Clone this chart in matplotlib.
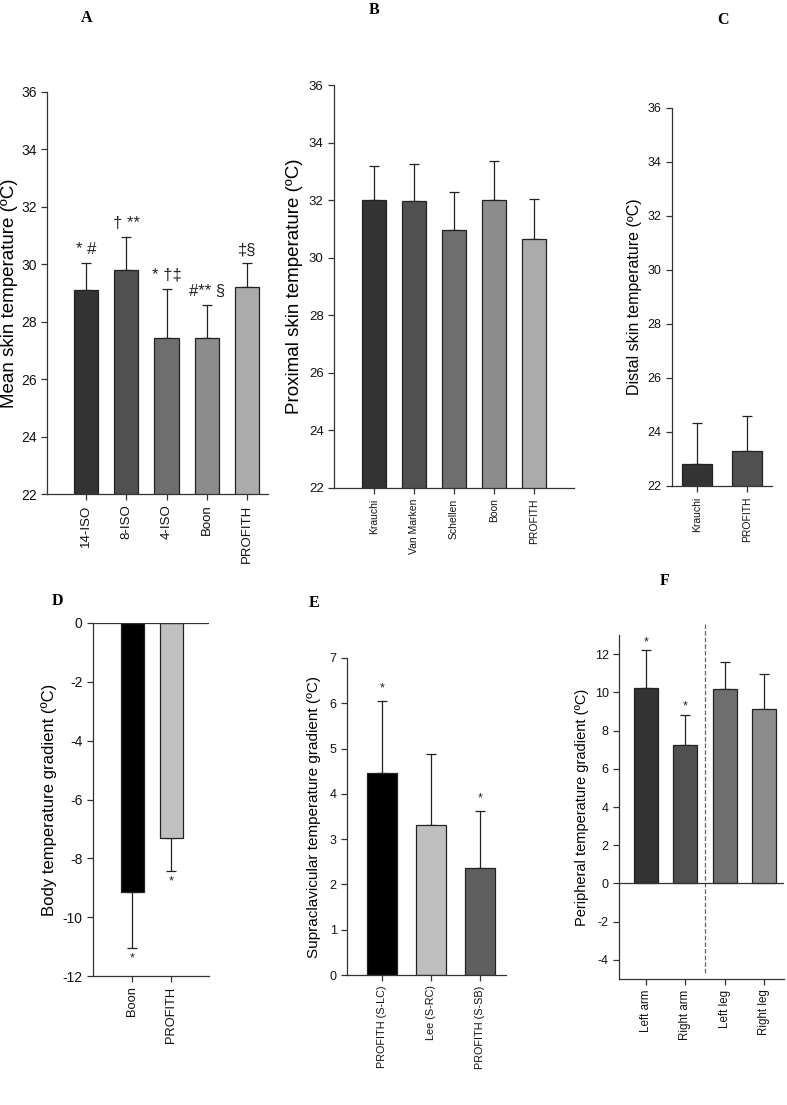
import matplotlib.pyplot as plt
import numpy as np

plt.rcParams['font.family'] = ['Liberation Sans', 'DejaVu Sans']
plt.rcParams['axes.unicode_minus'] = False

# A - mean skin temperature
a_labels = ["14-ISO", "8-ISO", "4-ISO", "Boon", "PROFITH"]
a_means = [29.12, 29.8, 27.45, 27.42, 29.2]
a_sd = [0.93, 1.15, 1.7, 1.17, 0.85]
a_marks = ["* #", "† **", "* †‡", "#** §", "‡§"]

# B - proximal skin temperature
b_labels = ["Krauchi", "Van Marken", "Schellen", "Boon", "PROFITH"]
b_means = [32.0, 31.97, 30.97, 32.02, 30.65]
b_sd = [1.2, 1.28, 1.31, 1.35, 1.4]

# C - distal skin temperature
c_labels = ["Krauchi", "PROFITH"]
c_means = [22.82, 23.3]
c_sd = [1.51, 1.3]

# D - body temperature gradient
d_labels = ["Boon", "PROFITH"]
d_means = [-9.15, -7.32]
d_sd = [1.9, 1.1]

# E - supraclavicular gradient
e_labels = ["PROFITH (S-LC)", "Lee (S-RC)", "PROFITH (S-SB)"]
e_means = [4.47, 3.32, 2.36]
e_sd = [1.58, 1.56, 1.26]
e_marks = ["*", "", "*"]

# F - peripheral gradient
f_labels = ["Left arm", "Right arm", "Left leg", "Right leg"]
f_means = [10.25, 7.25, 10.15, 9.15]
f_sd = [1.97, 1.58, 1.43, 1.8]
f_marks = ["*", "*", "", ""]

grays = ["#333333", "#505050", "#6e6e6e", "#8c8c8c", "#ababab"]

W, H = 787, 1105
fig = plt.figure(figsize=(7.87, 11.05), dpi=100)


def box(x0, x1, ytop, ybot):
    return [x0 / W, 1 - ybot / H, (x1 - x0) / W, (ybot - ytop) / H]


def style(ax, tick_fs, xfs):
    for s in ["top", "right"]:
        ax.spines[s].set_visible(False)
    for s in ["left", "bottom"]:
        ax.spines[s].set_linewidth(0.9)
        ax.spines[s].set_color("#333333")
    ax.tick_params(direction="out", length=4, width=0.9, color="#333333",
                   labelsize=tick_fs, labelcolor="#111111")
    ax.tick_params(axis="x", labelsize=xfs, rotation=90)


def bars(ax, means, sd, colors, width, down=False):
    x = np.arange(len(means))
    ax.bar(x, means, width=width, color=colors, edgecolor="#222222",
           linewidth=0.9, zorder=2)
    lo = np.array(sd) if down else np.zeros(len(sd))
    hi = np.zeros(len(sd)) if down else np.array(sd)
    ax.errorbar(x, means, yerr=[lo, hi], fmt="none", ecolor="#222222",
                elinewidth=0.9, capsize=3.5, capthick=0.9, zorder=1)
    return x


def letter(x, y, s):
    fig.text(x / W, 1 - y / H, s, family="Liberation Serif",
             fontweight="bold", fontsize=11.5, ha="center", va="center")


# panel A
ax = fig.add_axes(box(47, 268, 92, 494))
x = bars(ax, a_means, a_sd, grays, 0.6)
ax.set_ylim(22, 36)
ax.set_xlim(-0.975, 4.525)
ax.set_yticks(range(22, 37, 2))
ax.set_xticks(x)
ax.set_xticklabels(a_labels)
for i in range(len(x)):
    ax.text(x[i], a_means[i] + a_sd[i] + 0.2, a_marks[i], ha="center",
            va="bottom", fontsize=12, color="#222222")
ax.set_ylabel("Mean skin temperature (ºC)", fontsize=13.5, labelpad=2)
style(ax, 10, 9.5)
letter(87, 18, "A")

# panel B
ax = fig.add_axes(box(334, 574, 85, 488))
x = bars(ax, b_means, b_sd, grays, 0.6)
ax.set_ylim(22, 36)
ax.set_xlim(-1.0, 5.0)
ax.set_yticks(range(22, 37, 2))
ax.set_xticks(x)
ax.set_xticklabels(b_labels)
ax.set_ylabel("Proximal skin temperature (ºC)", fontsize=13.5, labelpad=4)
style(ax, 9.5, 7.5)
letter(374, 10, "B")

# panel C
ax = fig.add_axes(box(672, 772, 108, 486))
x = bars(ax, c_means, c_sd, grays[:2], 0.6)
ax.set_ylim(22, 36)
ax.set_xlim(-0.5, 1.5)
ax.set_yticks(range(22, 37, 2))
ax.set_xticks(x)
ax.set_xticklabels(c_labels)
ax.set_ylabel("Distal skin temperature (ºC)", fontsize=11.5, labelpad=4)
style(ax, 9, 7.5)
letter(723, 20, "C")

# panel D
ax = fig.add_axes(box(93, 209, 623, 976))
x = bars(ax, d_means, d_sd, ["#000000", "#c0c0c0"], 0.59, down=True)
ax.set_ylim(-12, 0)
ax.set_xlim(-1.0, 1.97)
ax.set_yticks(range(-12, 1, 2))
ax.set_xticks(x)
ax.set_xticklabels(d_labels)
for i in range(len(x)):
    ax.text(x[i], d_means[i] - d_sd[i] - 0.15, "*", ha="center", va="top",
            fontsize=9, color="#222222")
ax.set_ylabel("Body temperature gradient (ºC)", fontsize=12, labelpad=4)
style(ax, 10, 9.3)
ax.spines["bottom"].set_visible(False)
ax.axhline(0, color="#333333", lw=0.9, zorder=3)
ax.axhline(-12, color="#333333", lw=0.9, clip_on=False)
letter(57, 601, "D")

# panel E
ax = fig.add_axes(box(347, 506, 658, 975))
x = bars(ax, e_means, e_sd, ["#000000", "#bfbfbf", "#5f5f5f"], 0.61)
ax.set_ylim(0, 7)
ax.set_xlim(-0.71, 2.53)
ax.set_yticks(range(0, 8))
ax.set_xticks(x)
ax.set_xticklabels(e_labels)
for i in range(len(x)):
    ax.text(x[i], e_means[i] + e_sd[i] + 0.15, e_marks[i], ha="center",
            va="bottom", fontsize=9, color="#222222")
ax.set_ylabel("Supraclavicular temperature gradient (ºC)", fontsize=11,
              labelpad=6)
style(ax, 9, 7.8)
letter(314, 603, "E")

# panel F
ax = fig.add_axes(box(619, 784, 635, 979))
x = bars(ax, f_means, f_sd, grays[:4], 0.61)
ax.set_ylim(-5, 13)
ax.set_xlim(-0.69, 3.51)
ax.set_yticks(range(-4, 13, 2))
ax.set_xticks(x)
ax.set_xticklabels(f_labels)
for i in range(len(x)):
    ax.text(x[i], f_means[i] + f_sd[i] + 0.1, f_marks[i], ha="center",
            va="bottom", fontsize=9, color="#222222")
ax.axhline(0, color="#333333", lw=0.9, zorder=3)
ax.plot([1.5, 1.5], [-4.7, 13.6], ls="--", color="#666666", lw=0.9,
        clip_on=False)
ax.set_ylabel("Peripheral temperature gradient (ºC)", fontsize=10.5,
              labelpad=4)
style(ax, 9, 8.3)
letter(665, 581, "F")

fig.savefig("out.png", dpi=100)
